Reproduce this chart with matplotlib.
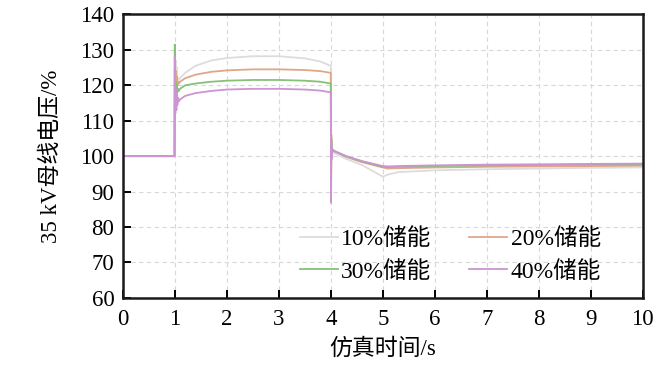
import numpy as np
import matplotlib
matplotlib.use('Agg')
import matplotlib.pyplot as plt

plt.rcParams['font.family'] = ['Liberation Serif', 'Noto Sans CJK SC']

# time axis shared by all curves (s)
t = [0, 0.995, 1.0, 1.01, 1.02, 1.03, 1.04, 1.05, 1.06, 1.08, 1.1, 1.2, 1.4, 1.7,
     2.0, 2.5, 3.0, 3.5, 3.8, 4.0, 4.005, 4.01, 4.02, 4.03, 4.05, 4.3, 4.6, 5.0,
     5.1, 5.3, 6, 7, 8, 9, 10]

v10 = [100, 100, 130, 122, 127, 121, 125, 121.5, 122, 121.5, 122, 123.5, 125.5, 127,
       127.7, 128.2, 128.2, 127.6, 126.7, 125.5, 95, 103, 99, 101.5, 101, 99.2, 97.5, 94.2,
       94.8, 95.5, 96, 96.3, 96.5, 96.7, 96.8]
v20 = [100, 100, 125, 118, 124, 119, 122.5, 120, 121, 120.5, 121, 122, 123, 123.8,
       124.2, 124.5, 124.5, 124.3, 124, 123.5, 92, 106, 99.5, 102, 101.5, 99.8, 98.3, 96.8,
       96.5, 96.6, 96.8, 97, 97.1, 97.2, 97.3]
v30 = [100, 100, 131.5, 116, 121, 117, 120, 118, 119, 118.5, 119, 120, 120.5, 121,
       121.3, 121.5, 121.5, 121.3, 121, 120.5, 90, 105, 100, 102, 101.6, 99.9, 98.5, 97,
       96.9, 97, 97.2, 97.4, 97.5, 97.6, 97.7]
v40 = [100, 100, 128, 112, 119, 113, 117.5, 114.5, 116.5, 115.5, 116, 117, 117.8, 118.4,
       118.8, 119, 119, 118.8, 118.5, 118, 86.8, 104, 99.5, 101.8, 101.5, 100, 98.6, 97.2,
       97.1, 97.2, 97.4, 97.6, 97.7, 97.8, 97.9]

labels = ['10%储能', '20%储能', '30%储能', '40%储能']
colors = ['#dcdcdc', '#e0a688', '#86c178', '#cc94d2']

fig = plt.figure(figsize=(6.71, 3.70), dpi=100)
ax = fig.add_axes([0.183, 0.195, 0.775, 0.766])

lines = []
for v, lab, c in zip([v10, v20, v30, v40], labels, colors):
    ln, = ax.plot(t, v, color=c, lw=1.3, label=lab)
    lines.append(ln)

ax.set_xlim(0, 10)
ax.set_ylim(60, 140)
ax.set_xticks(np.arange(0, 11, 1))
ax.set_yticks(np.arange(60, 141, 10))
ax.grid(True, ls=(0, (4, 3)), color='#d8d8d8', lw=0.8)
ax.tick_params(direction='in', length=6, width=1.4, labelsize=16.5)
ax.tick_params(axis='x', pad=8)
ax.tick_params(axis='y', pad=6)
for s in ax.spines.values():
    s.set_linewidth(1.8)
    s.set_color('#1a1a1a')

ax.set_xlabel('仿真时间/s', fontsize=16.5, labelpad=6)
ax.set_ylabel('35 kV母线电压/%', fontsize=16.5, labelpad=13)

# row-major order like the original: 10% 20% / 30% 40%
order = [0, 2, 1, 3]
ax.legend([lines[i] for i in order], [labels[i] for i in order],
          ncol=2, frameon=False, loc='center', bbox_to_anchor=(0.63, 0.15),
          fontsize=17, handlelength=1.6, handletextpad=0.15, columnspacing=1.6,
          labelspacing=0.45)

fig.savefig('out.png', dpi=100)
